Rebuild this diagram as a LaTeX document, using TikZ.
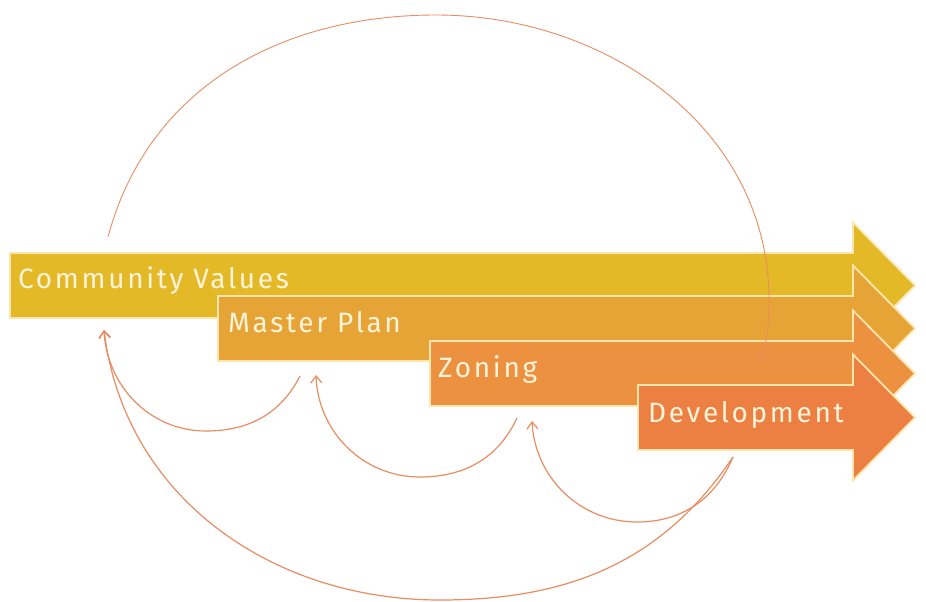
\documentclass[tikz,border=0pt]{standalone}
\usepackage{fontspec}
\setmainfont{Fira Sans}
\newfontfamily\lblfont[LetterSpace=9.5]{Fira Sans}
\usetikzlibrary{arrows.meta}
\definecolor{cvcol}{HTML}{E4B928}
\definecolor{mpcol}{HTML}{E6A436}
\definecolor{zncol}{HTML}{EB913F}
\definecolor{devcol}{HTML}{EC8043}
\definecolor{edgecol}{HTML}{FCE6AE}
\definecolor{txtcol}{HTML}{FFF4DA}
\definecolor{loopcol}{HTML}{E88C62}
\newcommand{\bandarrow}[3]{%
  \path[fill=#1, band] (#2,-#3) -- (853,-#3) -- (853,{-#3+30.5}) -- (915,{-#3-32.5})
    -- (853,{-#3-95.5}) -- (853,{-#3-65}) -- (#2,{-#3-65}) -- cycle;}
\begin{document}
\begin{tikzpicture}[x=1pt,y=1pt,
  band/.style={draw=edgecol, line width=1.8pt, line join=miter},
  lbl/.style={anchor=base west, inner sep=0pt, text=txtcol, font=\lblfont\fontsize{28}{33}\selectfont},
  fb/.style={draw=loopcol, line width=1.2pt, -{Straight Barb[length=7pt,width=11pt]}}]
\fill[white] (0,0) rectangle (926,-602);
\useasboundingbox (0,0) rectangle (926,-602);

\bandarrow{cvcol}{10}{253}
\bandarrow{mpcol}{218}{296}
\bandarrow{zncol}{430}{341}
\bandarrow{devcol}{638}{385}

\node[lbl] (cv) at (18,-288) {Community Values};
\node[lbl] (mp) at (228,-332) {Master Plan};
\node[lbl] (zn) at (438,-377) {Zoning};
\node[lbl] (dev) at (648,-422) {Development};

\coordinate (cvIn) at (104,-330);
\coordinate (mpOut) at (300,-376);
\coordinate (mpIn) at (316,-375);
\coordinate (znOut) at (517,-418);
\coordinate (znIn) at (532,-421);
\coordinate (devOut) at (733,-457);
\coordinate (b1) at (206,-431);
\coordinate (b2) at (420,-477);
\coordinate (b3) at (637,-522);
\coordinate (bBig) at (440,-600);
\coordinate (topStart) at (108,-237);
\coordinate (topMid) at (436,-15);
\coordinate (topRight) at (769,-300);
\coordinate (topEnd) at (762,-359);

\draw[fb] (mpOut) to[out=-117,in=0] (b1) to[out=180,in=-87] (cvIn);
\draw[fb] (znOut) to[out=-115,in=0] (b2) to[out=180,in=-88] (mpIn);
\draw[fb] (devOut) to[out=-113,in=0] (b3) to[out=180,in=-87] (znIn);
\draw[fb] (devOut) to[out=-124,in=0] (bBig) to[out=180,in=-83] (cvIn);
\draw[fb, line width=0.9pt] (topStart) to[out=75,in=180] (topMid) to[out=0,in=90] (topRight) to[out=-90,in=76] (topEnd);
\end{tikzpicture}
\end{document}
